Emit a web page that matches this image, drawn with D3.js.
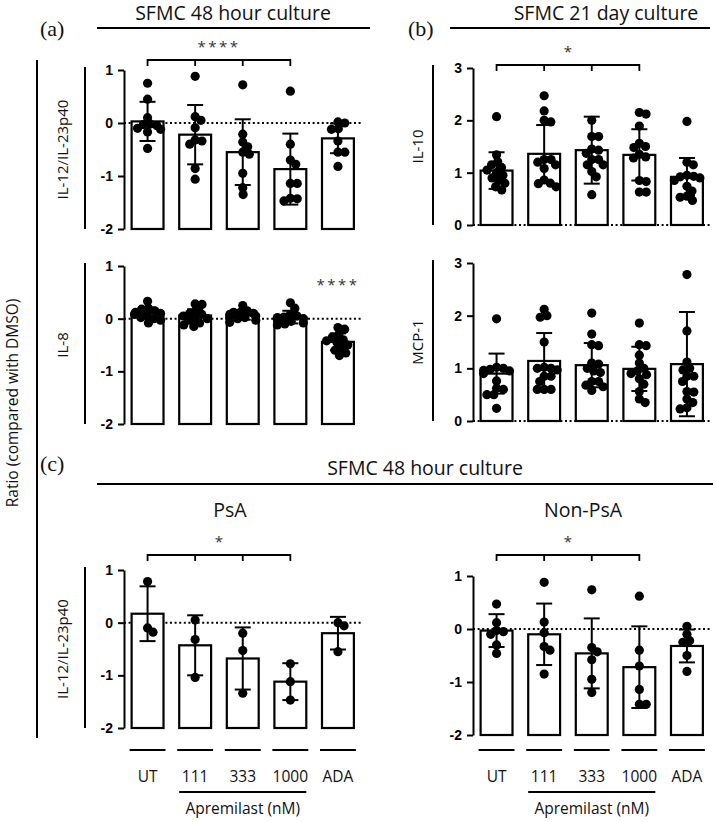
<!DOCTYPE html>
<html><head><meta charset="utf-8">
<script src="https://cdn.jsdelivr.net/npm/d3@7"></script>
<style>body{margin:0;background:#fff} svg{display:block}</style>
</head><body>
<svg id="chart" width="717" height="822"></svg>
<script>
// ---------------- DATA ----------------
const categories = ["UT", "111", "333", "1000", "ADA"];
const ticksRatio = [-2, -1, 0, 1];
const ticksFold = [0, 1, 2, 3];

// (a) SFMC 48 hour culture – IL-12/IL-23p40
const il12Mean = [0.03, -0.22, -0.55, -0.87, -0.29];
const il12SD = [0.37, 0.56, 0.62, 0.67, 0.28];
const il12Points = [
  [0.75, 0.45, 0.1, -0.02, -0.03, -0.05, -0.1, -0.12, -0.17, -0.48],
  [0.88, 0.12, 0.05, -0.09, -0.34, -0.4, -0.32, -0.86, -1.06],
  [0.72, -0.21, -0.36, -0.45, -0.55, -0.59, -0.95, -1.22, -1.35],
  [0.6, -0.4, -0.7, -0.78, -1.14, -1.14, -1.42, -1.47, -1.43],
  [0.0, 0.02, -0.11, -0.12, -0.34, -0.55, -0.55, -0.82]
];
// (a) IL-8
const il8Mean = [0.11, 0.06, 0.06, 0.03, -0.44];
const il8SD = [0.1, 0.12, 0.08, 0.12, 0.16];
const il8Points = [
  [0.33, 0.2, 0.18, 0.15, 0.12, 0.1, 0.08, 0.05, 0.02, 0.0, -0.03, -0.08],
  [0.28, 0.27, 0.15, 0.1, 0.08, 0.05, 0.02, 0.0, -0.03, -0.08, -0.12, -0.15],
  [0.25, 0.15, 0.12, 0.12, 0.1, 0.08, 0.05, 0.03, 0.02, 0.0, -0.03, -0.07],
  [0.3, 0.2, 0.08, 0.05, 0.03, 0.02, 0.0, -0.02, -0.05, -0.08, -0.1, -0.12],
  [-0.17, -0.2, -0.3, -0.35, -0.4, -0.42, -0.45, -0.5, -0.55, -0.6, -0.65, -0.7]
];
// (b) SFMC 21 day culture – IL-10
const il10Mean = [1.04, 1.36, 1.43, 1.34, 0.92];
const il10SD = [0.35, 0.55, 0.64, 0.49, 0.36];
const il10Points = [
  [2.07, 1.34, 1.21, 1.15, 1.1, 1.05, 1.0, 0.95, 0.9, 0.85, 0.8, 0.73, 0.67],
  [2.47, 2.18, 2.0, 1.97, 1.25, 1.25, 1.2, 1.15, 1.08, 0.86, 0.8, 0.79, 0.73],
  [2.0, 1.69, 1.69, 1.45, 1.43, 1.37, 1.25, 1.25, 1.15, 1.15, 1.02, 0.92, 0.58],
  [2.15, 2.12, 1.89, 1.56, 1.5, 1.48, 1.35, 1.3, 1.28, 0.85, 0.83, 0.63, 0.63],
  [1.98, 1.2, 1.15, 0.95, 0.93, 0.92, 0.9, 0.85, 0.74, 0.65, 0.55, 0.53, 0.47]
];
// (b) MCP-1
const mcp1Mean = [0.9, 1.14, 1.06, 0.99, 1.08];
const mcp1SD = [0.38, 0.53, 0.42, 0.42, 0.99];
const mcp1Points = [
  [1.94, 1.02, 1.0, 0.98, 0.96, 0.95, 0.9, 0.76, 0.62, 0.6, 0.5, 0.5, 0.24],
  [2.12, 2.0, 1.97, 1.5, 1.02, 1.0, 1.0, 0.97, 0.85, 0.85, 0.75, 0.6, 0.6, 0.6],
  [2.05, 1.65, 1.45, 1.43, 1.1, 1.08, 1.0, 0.95, 0.92, 0.75, 0.75, 0.68, 0.65, 0.58],
  [1.86, 1.45, 1.43, 1.25, 1.1, 1.0, 0.95, 0.9, 0.88, 0.8, 0.7, 0.56, 0.42, 0.35],
  [2.78, 1.71, 1.12, 1.0, 0.97, 0.85, 0.85, 0.75, 0.56, 0.55, 0.42, 0.35, 0.25, 0.23]
];
// (c) PsA – IL-12/IL-23p40
const psaMean = [0.17, -0.43, -0.68, -1.12, -0.2];
const psaSD = [0.52, 0.57, 0.59, 0.35, 0.31];
const psaPoints = [
  [0.78, -0.18, -0.1],
  [0.05, -0.32, -1.04],
  [-0.2, -0.53, -1.34],
  [-0.78, -1.12, -1.47],
  [0.0, -0.06, -0.55]
];
// (c) Non-PsA – IL-12/IL-23p40
const nonPsaMean = [-0.03, -0.1, -0.46, -0.72, -0.32];
const nonPsaSD = [0.31, 0.58, 0.66, 0.77, 0.31];
const nonPsaPoints = [
  [0.47, 0.12, -0.03, -0.05, -0.1, -0.3, -0.46],
  [0.88, 0.13, -0.07, -0.33, -0.4, -0.85],
  [0.74, -0.35, -0.43, -0.58, -0.95, -1.2],
  [0.62, -0.4, -0.7, -1.14, -1.42, -1.42],
  [0.05, -0.1, -0.22, -0.25, -0.5, -0.8]
];

// ---------------- DRAWING ----------------
const svg = d3.select("#chart");
const SANS = "'Open Sans', 'Noto Sans', sans-serif";
const SERIF = "'Liberation Serif', 'DejaVu Serif', serif";
const BOLD = "'Liberation Sans', Arial, sans-serif";

function swarm(values, cx, y, r, maxDx) {
  const D = 2 * r * 0.75;
  const pts = values.map(v => ({ py: y(v) })).sort((a, b) => a.py - b.py);
  const placed = [];
  for (const p of pts) {
    const cands = [0];
    for (const q of placed) {
      const dy = p.py - q.py;
      if (Math.abs(dy) < D) {
        const dx = Math.sqrt(D * D - dy * dy);
        cands.push(q.dx + dx, q.dx - dx);
      }
    }
    cands.sort((a, b) => Math.abs(a) - Math.abs(b));
    p.dx = 0;
    for (const c of cands) {
      if (placed.every(q => (c - q.dx) ** 2 + (p.py - q.py) ** 2 >= D * D - 0.05)) { p.dx = c; break; }
    }
    p.dx = Math.max(-maxDx, Math.min(maxDx, p.dx));
    placed.push(p);
  }
  return placed.map(p => ({ cx: cx + p.dx, cy: p.py }));
}

function drawPanel(o) {
  const g = svg.append("g");
  const x = d3.scaleBand().domain(categories).range([o.x0, o.x0 + 237.5])
    .paddingInner(0.33).paddingOuter(0.16);
  const y = d3.scaleLinear().domain(o.domain).range([o.yBot, o.yTop]);
  const bw = x.bandwidth();
  const base = y(o.domain[0]);

  // dotted zero line
  g.append("line").attr("x1", o.x0).attr("x2", o.x0 + 238)
    .attr("y1", y(0)).attr("y2", y(0))
    .attr("stroke", "#000").attr("stroke-width", 2).attr("stroke-dasharray", "2,2.6");

  // bars
  g.selectAll("rect.bar").data(o.means).join("rect")
    .attr("x", (d, i) => x(categories[i])).attr("width", bw)
    .attr("y", d => y(d)).attr("height", d => base - y(d))
    .attr("fill", "#fff").attr("stroke", "#000").attr("stroke-width", 2.2);

  // error bars
  o.means.forEach((m, i) => {
    const cx = x(categories[i]) + bw / 2;
    const hi = y(m + o.sds[i]), lo = y(m - o.sds[i]);
    g.append("line").attr("x1", cx).attr("x2", cx).attr("y1", hi).attr("y2", lo)
      .attr("stroke", "#000").attr("stroke-width", 2);
    [hi, lo].forEach(yy => g.append("line").attr("x1", cx - 8).attr("x2", cx + 8)
      .attr("y1", yy).attr("y2", yy).attr("stroke", "#000").attr("stroke-width", 2));
  });

  // dots
  o.points.forEach((vals, i) => {
    const cx = x(categories[i]) + bw / 2;
    g.selectAll(null).data(swarm(vals, cx, y, 4.6, 13)).join("circle")
      .attr("cx", d => d.cx).attr("cy", d => d.cy).attr("r", 4.6).attr("fill", "#000");
  });

  // y axis
  const ax = g.append("g").attr("transform", `translate(${o.x0},0)`)
    .call(d3.axisLeft(y).tickValues(o.ticks).tickSize(6).tickSizeOuter(0).tickPadding(5)
      .tickFormat(d => String(d)));
  ax.select(".domain").attr("stroke-width", 2);
  ax.selectAll(".tick line").attr("stroke-width", 2);
  ax.selectAll(".tick text").attr("font-family", BOLD).attr("font-weight", "bold")
    .attr("font-size", 14).attr("fill", "#000");

  // left label with grouping line
  if (o.label) {
    g.append("line").attr("x1", o.labelLineX).attr("x2", o.labelLineX)
      .attr("y1", o.yTop - 3).attr("y2", o.yBot)
      .attr("stroke", "#000").attr("stroke-width", 2);
    g.append("text").attr("transform", `translate(${o.labelX},${(o.yTop + o.yBot) / 2}) rotate(-90)`)
      .attr("text-anchor", "middle").attr("font-family", SANS).attr("font-size", 15)
      .attr("fill", "#111").text(o.label);
  }

  // significance bracket
  if (o.bracketY) {
    const c0 = x(categories[0]) + bw / 2, c3 = x(categories[3]) + bw / 2;
    let p = `M${c0},${o.bracketY + 6}V${o.bracketY}H${c3}V${o.bracketY + 6}`;
    [1, 2].forEach(k => { const c = x(categories[k]) + bw / 2; p += `M${c},${o.bracketY}V${o.bracketY + 6}`; });
    g.append("path").attr("d", p).attr("fill", "none").attr("stroke", "#000").attr("stroke-width", 1.8);
    g.append("text").attr("x", (c0 + c3) / 2).attr("y", o.bracketY - 8)
      .attr("text-anchor", "middle").attr("font-family", SANS).attr("font-size", 15)
      .attr("letter-spacing", o.stars.length > 1 ? 2.5 : 0)
      .attr("fill", "#333").text(o.stars);
  }
  if (o.adaStars) {
    const c = x(categories[4]) + bw / 2;
    g.append("text").attr("x", c).attr("y", y(0.65) + 6).attr("text-anchor", "middle")
      .attr("font-family", SANS).attr("font-size", 15).attr("letter-spacing", 2.5)
      .attr("fill", "#333").text(o.adaStars);
  }

  // category axis below
  if (o.xLabels) {
    categories.forEach((c, i) => {
      const xl = x(c);
      g.append("line").attr("x1", xl - 2).attr("x2", xl + bw + 2).attr("y1", 750).attr("y2", 750)
        .attr("stroke", "#000").attr("stroke-width", 2.2);
      g.append("text").attr("x", xl + bw / 2).attr("y", 782).attr("text-anchor", "middle")
        .attr("font-family", SANS).attr("font-size", 15.5).attr("fill", "#111").text(c);
    });
    const a1 = x(categories[1]), a3 = x(categories[3]) + bw;
    g.append("line").attr("x1", a1).attr("x2", a3).attr("y1", 792).attr("y2", 792)
      .attr("stroke", "#000").attr("stroke-width", 2);
    g.append("text").attr("x", (a1 + a3) / 2).attr("y", 814).attr("text-anchor", "middle")
      .attr("font-family", SANS).attr("font-size", 15.5).attr("fill", "#111").text("Apremilast (nM)");
  }
}

// panels
drawPanel({ x0: 124, yTop: 70, yBot: 229, domain: [-2, 1], ticks: ticksRatio,
  means: il12Mean, sds: il12SD, points: il12Points, label: "IL-12/IL-23p40", labelX: 68, labelLineX: 85,
  bracketY: 60, stars: "****" });
drawPanel({ x0: 124, yTop: 266, yBot: 424, domain: [-2, 1], ticks: ticksRatio,
  means: il8Mean, sds: il8SD, points: il8Points, label: "IL-8", labelX: 68, labelLineX: 85,
  adaStars: "****" });
drawPanel({ x0: 473, yTop: 68, yBot: 225, domain: [0, 3], ticks: ticksFold,
  means: il10Mean, sds: il10SD, points: il10Points, label: "IL-10", labelX: 423, labelLineX: 433,
  bracketY: 65, stars: "*" });
drawPanel({ x0: 473, yTop: 263, yBot: 421, domain: [0, 3], ticks: ticksFold,
  means: mcp1Mean, sds: mcp1SD, points: mcp1Points, label: "MCP-1", labelX: 423, labelLineX: 433 });
drawPanel({ x0: 124, yTop: 570, yBot: 728, domain: [-2, 1], ticks: ticksRatio,
  means: psaMean, sds: psaSD, points: psaPoints, label: "IL-12/IL-23p40", labelX: 68, labelLineX: 85,
  bracketY: 555, stars: "*", xLabels: true });
drawPanel({ x0: 473, yTop: 576, yBot: 735, domain: [-2, 1], ticks: ticksRatio,
  means: nonPsaMean, sds: nonPsaSD, points: nonPsaPoints,
  bracketY: 555, stars: "*", xLabels: true });

// headings and frame lines
const line = (x1, y1, x2, y2) => svg.append("line").attr("x1", x1).attr("y1", y1).attr("x2", x2).attr("y2", y2)
  .attr("stroke", "#000").attr("stroke-width", 2);
const text = (x, y, s, size, fam, anchor = "middle") => svg.append("text").attr("x", x).attr("y", y)
  .attr("text-anchor", anchor).attr("font-family", fam).attr("font-size", size).attr("fill", "#111").text(s);

line(97, 28, 370, 28);
text(233, 20, "SFMC 48 hour culture", 19.5, SANS);
line(450, 28, 710, 28);
text(606, 20, "SFMC 21 day culture", 19.5, SANS);
line(97, 484, 713, 484);
text(425, 475, "SFMC 48 hour culture", 19.5, SANS);
text(230, 517, "PsA", 19.5, SANS);
text(583, 517, "Non-PsA", 19.5, SANS);

text(40, 36, "(a)", 22, SERIF, "start");
text(408, 36, "(b)", 22, SERIF, "start");
text(40, 471, "(c)", 22, SERIF, "start");

line(37, 60, 37, 738);
svg.append("text").attr("transform", "translate(18,403) rotate(-90)").attr("text-anchor", "middle")
  .attr("font-family", SANS).attr("font-size", 15.5).attr("fill", "#111").text("Ratio (compared with DMSO)");
</script>
</body></html>
